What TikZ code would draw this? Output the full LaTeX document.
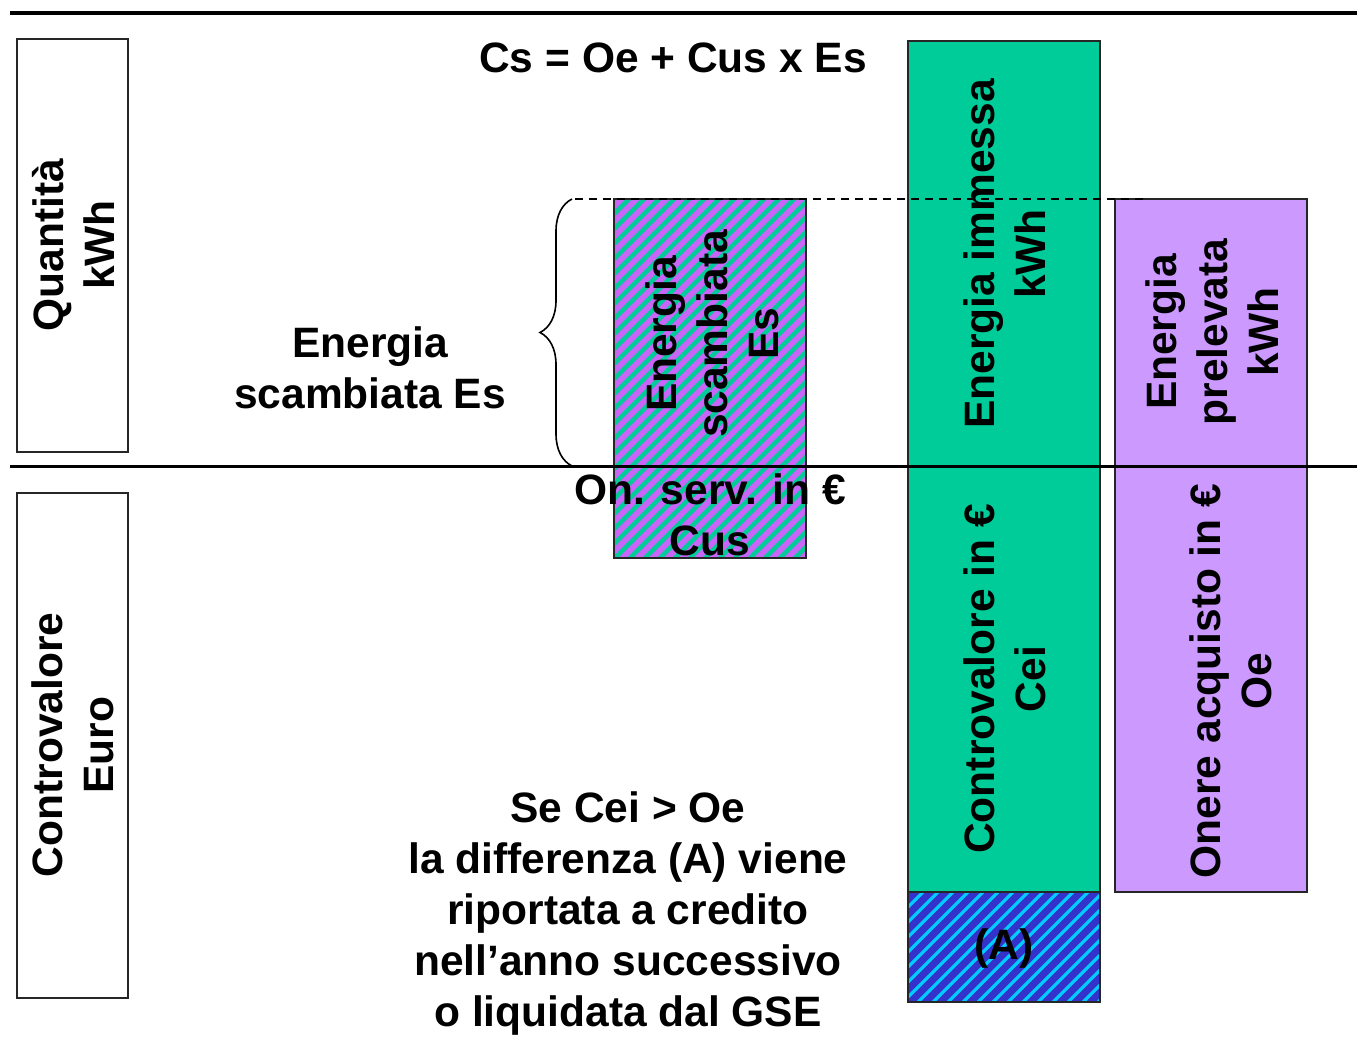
\documentclass[tikz,border=0pt]{standalone}
\usepackage{fontspec}
\setmainfont{Liberation Sans}
\usetikzlibrary{decorations.pathreplacing}
\definecolor{verde}{HTML}{00CC99}
\definecolor{lilla}{HTML}{CC99FF}
\definecolor{viola}{HTML}{C866F8}
\definecolor{blu}{HTML}{3333CC}
\definecolor{ciano}{HTML}{00CCFF}
\tikzset{
	testo/.style={font=\fontsize{42.5}{51}\selectfont\bfseries, align=center, inner sep=0pt},
	verticale/.style={testo, rotate=90},
	bordo/.style={draw=black!85, line width=1.6pt}
}
% rettangolo a strisce: (x1,y1)(x2,y2){sfondo}{righe}{spessore}
\def\rigato(#1,#2)(#3,#4)#5#6#7{%
	\begin{scope}
		\clip (#1, #2) rectangle (#3, #4);
		\fill[#5] (#1, #2) rectangle (#3, #4);
		\foreach \c in {0,15,...,600}
			\draw[#6, line width=#7] ({#1+#2+\c-#4-10}, #4+10) -- ({#1+\c+10}, #2-10);
	\end{scope}
	\draw[bordo] (#1, #2) rectangle (#3, #4);}

\begin{document}
\begin{tikzpicture}[x=1pt, y=-1pt]
			%%%%% START %%%%%
			\useasboundingbox (0, 0) rectangle (1357, 1036);
			
			% riquadri a sinistra
			\draw[bordo] (17, 39) rectangle (128, 452);
			\draw[bordo] (17, 493) rectangle (128, 998);
			\node[verticale] (quantita) at (73, 245) {Quantità\\kWh};
			\node[verticale] (controvalore) at (73, 745) {Controvalore\\Euro};
			
			% colonne
			\rigato(614,199)(806,558){viola}{verde}{4.3pt}
			\draw[bordo, fill=verde] (908, 41) rectangle (1100, 892);
			\rigato(908,892)(1100,1002){blu}{ciano}{3.2pt}
			\draw[bordo, fill=lilla] (1115, 199) rectangle (1307, 892);
			
			% linee orizzontali
			\draw[line width=4pt] (10, 13) -- (1357, 13);
			\draw[line width=3pt] (10, 466) -- (1357, 466);
			\draw[dashed, dash pattern=on 8pt off 6pt, line width=1.5pt] (575, 199) -- (1145, 199);
			
			% parentesi
			\draw[line width=1.6pt, decorate, decoration={brace, amplitude=32pt}] (572, 466) -- (572, 199);
			
			% testi
			\node[testo] (formula) at (673, 58) {Cs = Oe + Cus x Es};
			\node[testo] (scambiata) at (370, 368) {Energia\\scambiata Es};
			\node[verticale] (es) at (712, 334) {Energia\\scambiata\\Es};
			\node[testo] (cus) at (710, 515) {On. serv. in €\\Cus};
			\node[verticale] (immessa) at (1005, 254) {Energia immessa\\kWh};
			\node[verticale] (prelevata) at (1212, 332) {Energia\\prelevata\\kWh};
			\node[verticale] (cei) at (1005, 679) {Controvalore in €\\Cei};
			\node[verticale] (oe) at (1231, 681) {Onere acquisto in €\\Oe};
			\node[testo] (diff) at (1004, 948) {(A)};
			\node[testo] (nota) at (628, 913) {Se Cei > Oe\\la differenza (A) viene\\riportata a credito\\nell’anno successivo\\o liquidata dal GSE};
			%%%%% END %%%%%
\end{tikzpicture}
\end{document}
